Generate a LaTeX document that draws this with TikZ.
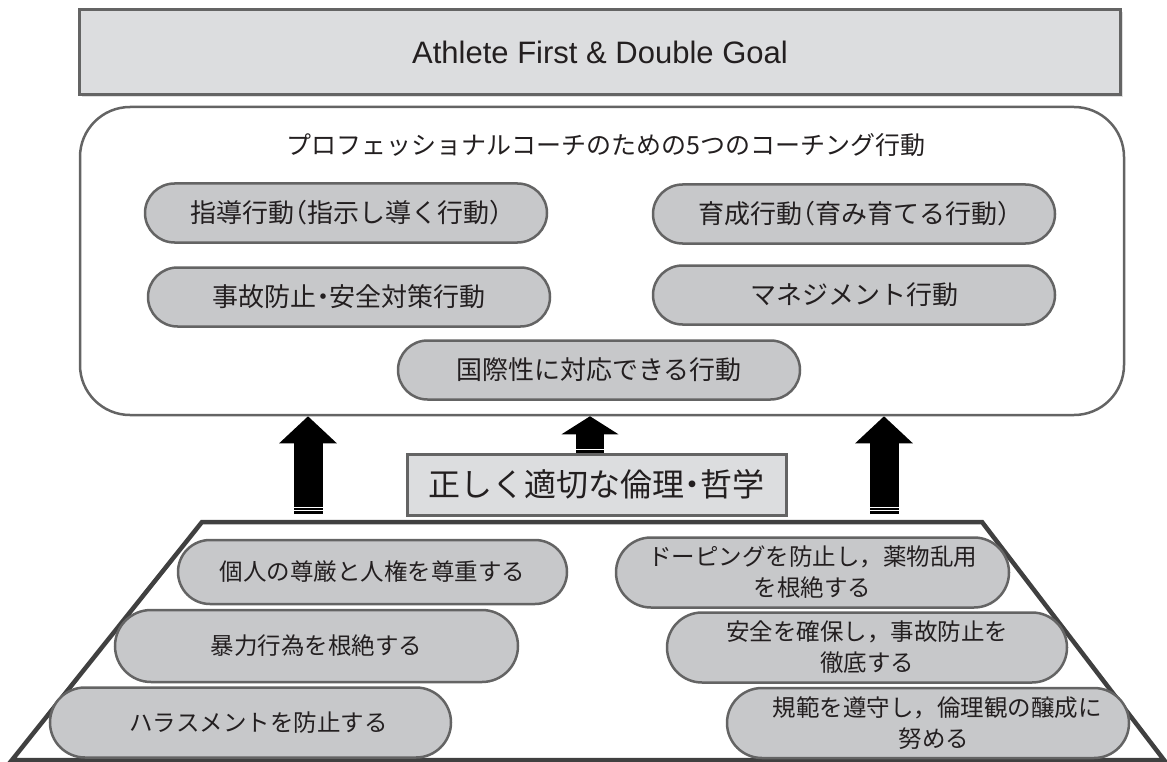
\documentclass[tikz,border=0pt]{standalone}
\usepackage{fontspec}
\setmainfont{Noto Sans CJK JP}
\newfontfamily\latinfont{Liberation Sans}
\newfontfamily\halfpunct[RawFeature=+halt]{Noto Sans CJK JP}
\usetikzlibrary{arrows.meta,shapes.misc,shadows}
\definecolor{pillgray}{HTML}{C7C8CA}
\definecolor{boxgray}{HTML}{DCDDDF}
\definecolor{edgegray}{HTML}{646464}
\definecolor{trapgray}{HTML}{404040}
\definecolor{inkblack}{HTML}{231F20}

\begin{document}
\begin{tikzpicture}[x=1pt,y=-1pt,
    pill/.style={rounded rectangle,draw=edgegray,fill=pillgray,line width=2.5pt,
        minimum width=402pt,minimum height=59pt,inner sep=0pt,text=inkblack,
        font=\halfpunct\fontsize{26pt}{30pt}\selectfont},
    basepill/.style={pill,minimum height=70pt,align=center,
        font=\fontsize{23.5pt}{31pt}\selectfont},
    uparrow/.style={draw=black,line width=29pt,-{Triangle[width=56pt,length=27pt]}},
    gap/.style={draw=white,line width=1.2pt}]
  \useasboundingbox (0,0) rectangle (1167,762);

  % goal banner
  \node[draw=edgegray,fill=boxgray,line width=3pt,minimum width=1041pt,minimum height=85pt,
        drop shadow={shadow xshift=2pt,shadow yshift=-2pt,opacity=0.25},
        font=\latinfont\fontsize{31pt}{36pt}\selectfont,text=inkblack]
        (goal) at (600,52.5) {Athlete First \& Double Goal};

  % five coaching behaviours
  \node[draw=edgegray,line width=2.5pt,rounded corners=50pt,minimum width=1044pt,
        minimum height=308pt] (frame) at (602,261) {};
  \node[font=\fontsize{25pt}{30pt}\selectfont,text=inkblack] (title) at (606,145)
        {プロフェッショナルコーチのための5つのコーチング行動};
  \node[pill] (shido) at (346,213) {指導行動（指示し導く行動）};
  \node[pill] (ikusei) at (854,214) {育成行動（育み育てる行動）};
  \node[pill] (jiko) at (349,297) {事故防止・安全対策行動};
  \node[pill] (manage) at (854,295) {マネジメント行動};
  \node[pill] (kokusai) at (599,370) {国際性に対応できる行動};

  % ethics base
  \draw[trapgray,line width=4.5pt] (12,760) -- (202,522) -- (982,522) -- (1164,760) -- cycle;
  \node[draw=edgegray,fill=boxgray,line width=3pt,minimum width=379pt,minimum height=61pt,
        font=\halfpunct\fontsize{32pt}{36pt}\selectfont,text=inkblack]
        (ethics) at (596.5,484.5) {正しく適切な倫理・哲学};

  \node[basepill,minimum width=389pt,minimum height=64pt] (songen) at (372.5,572) {個人の尊厳と人権を尊重する};
  \node[basepill,minimum width=403pt,minimum height=72pt] (boryoku) at (316.5,646) {暴力行為を根絶する};
  \node[basepill,minimum width=401pt] (harass) at (250.5,722.5) {\hspace*{16pt}ハラスメントを防止する};
  \node[basepill,minimum width=393pt] (doping) at (812.5,572.5) {ドーピングを防止し，薬物乱用\\を根絶する};
  \node[basepill,minimum width=400pt] (anzen) at (867,647.5) {安全を確保し，事故防止を\\徹底する};
  \node[basepill,minimum width=402pt] (kihan) at (928,723) {\hspace*{18pt}規範を遵守し，倫理観の醸成に\\\hspace*{12pt}努める};

  % arrows up to the frame
  \coordinate (lfoot) at (308,514);
  \coordinate (mfoot) at (590,453);
  \coordinate (rfoot) at (884,514);
  \draw[uparrow] (lfoot) -- (lfoot |- frame.south);
  \draw[uparrow] (rfoot) -- (rfoot |- frame.south);
  \draw[uparrow,line width=28pt,-{Triangle[width=56pt,length=18pt]}] (mfoot) -- (mfoot |- frame.south);
  \foreach \x in {308,884} {
    \draw[gap] (\x-16,507.3) -- (\x+16,507.3);
    \draw[gap] (\x-16,510.7) -- (\x+16,510.7);
  }
  \draw[gap] (574,449.8) -- (606,449.8);
\end{tikzpicture}
\end{document}
